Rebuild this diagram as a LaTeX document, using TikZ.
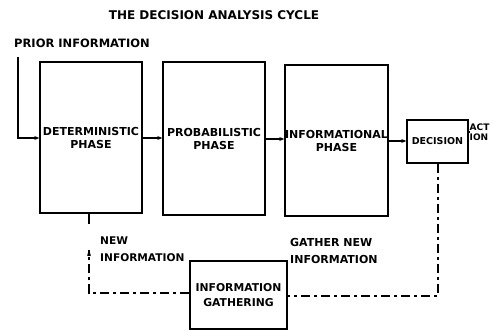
\documentclass[tikz,border=0pt]{standalone}
\usepackage{fontspec}
\setmainfont{DejaVu Sans}
\usetikzlibrary{arrows.meta}
\begin{document}
\begin{tikzpicture}[x=1pt,y=-1pt,
  box/.style={draw,line width=1.4pt,inner sep=0pt,align=center,font=\fontsize{11}{13}\selectfont\bfseries},
  lbl/.style={inner sep=0pt,align=left,font=\fontsize{11}{13}\selectfont\bfseries},
  conn/.style={line width=1.2pt,-{Stealth[length=5pt,width=4pt]}},
  dsh/.style={line width=1.1pt,dash pattern=on 9pt off 4pt on 3pt off 4pt}]
\useasboundingbox (0,0) rectangle (492,332);
\node[lbl,font=\fontsize{12}{14}\selectfont\bfseries] (title) at (214,15) {THE DECISION ANALYSIS CYCLE};
\node[lbl,anchor=west,font=\fontsize{11.5}{14}\selectfont\bfseries] (prior) at (14,43) {PRIOR INFORMATION};
\node[box,minimum width=102pt,minimum height=151pt] (b1) at (91,137.5) {DETERMINISTIC\\PHASE};
\node[box,minimum width=102pt,minimum height=153pt] (b2) at (214,138.5) {PROBABILISTIC\\PHASE};
\node[box,minimum width=103pt,minimum height=151pt] (b3) at (336.5,140.5) {INFORMATIONAL\\PHASE};
\node[box,minimum width=61pt,minimum height=43pt,font=\fontsize{9.5}{11}\selectfont\bfseries] (dec) at (437.5,141.5) {DECISION};
\node[lbl,anchor=west,font=\fontsize{9}{9.5}\selectfont\bfseries] (act) at (469.5,132) {ACT\\ION};
\node[box,minimum width=97pt,minimum height=68pt,font=\fontsize{10.8}{15}\selectfont\bfseries] (ig) at (238.5,295) {INFORMATION\\GATHERING};
\node[lbl,anchor=west,font=\fontsize{10.6}{17}\selectfont\bfseries] (newi) at (100,249) {NEW\\INFORMATION};
\node[lbl,anchor=west,font=\fontsize{11}{17}\selectfont\bfseries] (gath) at (290,251) {GATHER NEW\\INFORMATION};
\coordinate (p0) at (18,57);
\draw[conn] (p0) |- (b1.west |- 0,138);
\draw[conn] (b1.east |- 0,138) -- (b2.west |- 0,138);
\draw[conn] (b2.east |- 0,139) -- (b3.west |- 0,139);
\draw[conn] (b3.east |- 0,141) -- (dec.west |- 0,141);
\draw[line width=1.2pt] (dec.east |- 0,132) -- (act.west |- 0,132);
\coordinate (s1) at (89,224);
\draw[line width=1.2pt] (b1.south -| s1) -- (s1);
\coordinate (c1) at (438,296);
\draw[dsh] (dec.south -| c1) -- (c1) -- (ig.east |- c1);
\coordinate (c2) at (89,293);
\coordinate (c3) at (89,250);
\draw[dsh] (ig.west |- c2) -- (c2) -- (c3);
\draw[line width=1.2pt,-{Stealth[length=6pt,width=4pt]}] (89,256) -- (c3);
\end{tikzpicture}
\end{document}
